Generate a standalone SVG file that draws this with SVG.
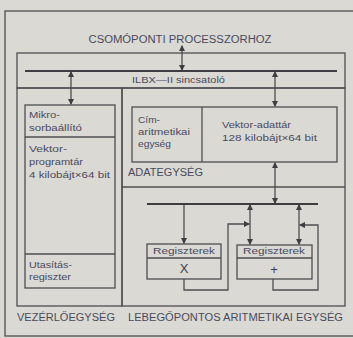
<svg xmlns="http://www.w3.org/2000/svg" width="353" height="338" viewBox="0 0 353 338">
<style>
.ln{stroke:#4e4e52;stroke-width:1.3;fill:none}
.bus{stroke:#3e3e42;stroke-width:2;fill:none}
.t{font-family:"Liberation Sans",Arial,sans-serif;fill:#4a4a5c;font-size:10px}
.s{font-family:"Liberation Sans",Arial,sans-serif;fill:#4a4a5c;font-size:9px}
.big{font-family:"Liberation Sans",Arial,sans-serif;fill:#3e3e50;font-size:13px}
</style>
<defs>
<marker id="a" viewBox="0 0 6 6" refX="5" refY="3" markerWidth="5" markerHeight="5" orient="auto-start-reverse">
<path d="M0,0 L6,3 L0,6 z" fill="#3e3e42"/>
</marker>
</defs>
<rect width="353" height="338" fill="#dad9d4"/>
<rect x="5" y="11" width="360" height="325" class="ln" stroke-width="1.6"/>
<text class="t" x="180" y="43" text-anchor="middle" textLength="183" lengthAdjust="spacingAndGlyphs">CSOMÓPONTI PROCESSZORHOZ</text>

<g id="ilbx">
<rect x="17" y="53" width="328" height="35" class="ln"/>
<line x1="25" y1="71" x2="337" y2="71" class="bus"/>
<text class="s" x="132" y="83" textLength="93" lengthAdjust="spacingAndGlyphs">ILBX—II sincsatoló</text>
</g>

<g id="vezerlo">
<rect x="17" y="88" width="105" height="218" class="ln"/>
<text class="t" x="17" y="321" textLength="98" lengthAdjust="spacingAndGlyphs">VEZÉRLŐEGYSÉG</text>
</g>

<g id="lebego">
<rect x="122" y="88" width="223" height="218" class="ln"/>
<line x1="122" y1="187" x2="345" y2="187" class="ln"/>
<text class="t" x="128" y="176" textLength="75" lengthAdjust="spacingAndGlyphs">ADATEGYSÉG</text>
<text class="t" x="128" y="321" textLength="215" lengthAdjust="spacingAndGlyphs">LEBEGŐPONTOS ARITMETIKAI EGYSÉG</text>
</g>

<g id="vezerlo-belso">
<rect x="25" y="105" width="90" height="183" class="ln"/>
<line x1="25" y1="137" x2="115" y2="137" class="ln"/>
<line x1="25" y1="254" x2="115" y2="254" class="ln"/>
<text class="s" x="29" y="118" textLength="31" lengthAdjust="spacingAndGlyphs">Mikro-</text>
<text class="s" x="29" y="131" textLength="53" lengthAdjust="spacingAndGlyphs">sorbaállító</text>
<text class="s" x="29" y="152" textLength="38" lengthAdjust="spacingAndGlyphs">Vektor-</text>
<text class="s" x="29" y="165" textLength="54" lengthAdjust="spacingAndGlyphs">programtár</text>
<text class="s" x="29" y="178" textLength="81" lengthAdjust="spacingAndGlyphs">4 kilobájt×64 bit</text>
<text class="s" x="29" y="268" textLength="43" lengthAdjust="spacingAndGlyphs">Utasítás-</text>
<text class="s" x="29" y="280" textLength="42" lengthAdjust="spacingAndGlyphs">regiszter</text>
</g>

<g id="adat-belso">
<rect x="132" y="107" width="205" height="55" class="ln"/>
<line x1="202" y1="107" x2="202" y2="162" class="ln"/>
<text class="s" x="138" y="123" textLength="22" lengthAdjust="spacingAndGlyphs">Cím-</text>
<text class="s" x="138" y="135" textLength="52" lengthAdjust="spacingAndGlyphs">aritmetikai</text>
<text class="s" x="138" y="147" textLength="33" lengthAdjust="spacingAndGlyphs">egység</text>
<text class="s" x="222" y="128" textLength="69" lengthAdjust="spacingAndGlyphs">Vektor-adattár</text>
<text class="s" x="222" y="141" textLength="95" lengthAdjust="spacingAndGlyphs">128 kilobájt×64 bit</text>
</g>

<g id="reg-x">
<rect x="147" y="244" width="74" height="35" class="ln"/>
<line x1="147" y1="258" x2="221" y2="258" class="ln"/>
<text class="s" x="184" y="254" text-anchor="middle" textLength="62" lengthAdjust="spacingAndGlyphs">Regiszterek</text>
<text class="big" x="184" y="273" text-anchor="middle">X</text>
</g>

<g id="reg-plus">
<rect x="237" y="245" width="75" height="34" class="ln"/>
<line x1="237" y1="258" x2="312" y2="258" class="ln"/>
<text class="s" x="274" y="254" text-anchor="middle" textLength="62" lengthAdjust="spacingAndGlyphs">Regiszterek</text>
<text class="big" x="274" y="274" text-anchor="middle">+</text>
</g>

<g id="connectors">
<line x1="182" y1="46" x2="182" y2="70" class="ln" marker-start="url(#a)" marker-end="url(#a)"/>
<line x1="71" y1="72" x2="71" y2="104" class="ln" marker-start="url(#a)" marker-end="url(#a)"/>
<line x1="275" y1="72" x2="275" y2="106" class="ln" marker-start="url(#a)" marker-end="url(#a)"/>
<line x1="147" y1="204" x2="318" y2="204" class="bus"/>
<line x1="275" y1="163" x2="275" y2="203" class="ln" marker-start="url(#a)" marker-end="url(#a)"/>
<line x1="184" y1="205" x2="184" y2="243" class="ln" marker-end="url(#a)"/>
<line x1="250" y1="205" x2="250" y2="244" class="ln" marker-start="url(#a)" marker-end="url(#a)"/>
<line x1="299" y1="205" x2="299" y2="244" class="ln" marker-start="url(#a)" marker-end="url(#a)"/>
<polyline points="184,279 184,290 228,290 228,224 249,224" class="ln" marker-end="url(#a)"/>
<polyline points="273,279 273,290 318,290 318,225 300,225" class="ln" marker-end="url(#a)"/>
</g>
</svg>
